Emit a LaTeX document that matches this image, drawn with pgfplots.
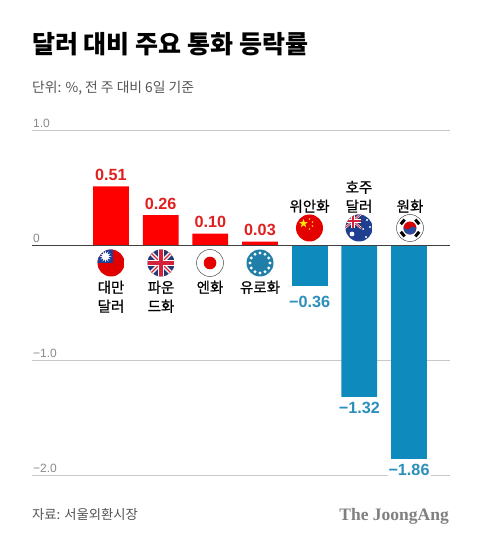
\documentclass[border=0pt]{standalone}
\usepackage{pgfplots}
\pgfplotsset{compat=1.18}
\usepackage{pgfplotstable}
\usetikzlibrary{shapes.geometric}
\usepackage{fontspec}
\setmainfont{Noto Sans CJK KR}
\newfontfamily\medfont[FakeBold=0.6]{Noto Sans CJK KR}
\newfontfamily\numfont{Liberation Sans}
\newfontfamily\logofont{Liberation Serif}
\definecolor{barred}{HTML}{FF0000}
\definecolor{barblue}{HTML}{0F8ABD}
\definecolor{txtred}{HTML}{E01F1F}
\definecolor{txtblue}{HTML}{2A8FBB}
\definecolor{gridc}{HTML}{C8C8C8}
\definecolor{tickc}{HTML}{8A8A8A}
\definecolor{subc}{HTML}{555555}
\definecolor{twblue}{HTML}{1D3F95}
\definecolor{ukblue}{HTML}{27386F}
\definecolor{ukred}{HTML}{D5213A}
\definecolor{eublue}{HTML}{1F7FA8}
\definecolor{aublue}{HTML}{1F3F90}
\definecolor{krblue}{HTML}{2A4C9C}
\pgfplotstableread{
x y lab
0 0.51 0.51
1 0.26 0.26
2 0.10 0.10
3 0.03 0.03
}\pos
\pgfplotstableread{
x y lab
4 -0.36 −0.36
}\negone
\pgfplotstableread{
x y lab
5 -1.32 −1.32
6 -1.86 −1.86
}\negv
\begin{document}
\begin{tikzpicture}[x=1pt,y=1pt]
\path[use as bounding box,fill=white] (0,0) rectangle (480,542);
\begin{axis}[
  at={(32pt,67pt)},anchor=south west,
  scale only axis,width=418pt,height=345pt,
  xmin=-1.59,xmax=6.825,ymin=-2,ymax=1,
  clip=false,
  axis line style={draw=none},
  xtick=\empty,
  ytick={-2,-1,0,1},
  yticklabels={−2.0,−1.0,0,1.0},
  major tick length=0pt,
  ymajorgrids,
  grid style={gridc,line width=0.8pt},
  yticklabel style={anchor=south west,font=\numfont\fontsize{12}{12}\selectfont,text=tickc,inner sep=0pt,xshift=1pt,yshift=2pt},
  ybar,bar width=35.7pt,bar shift=0pt,
  nodes near coords,
  point meta=explicit symbolic,
  nodes near coords style={font=\numfont\bfseries\fontsize{16.2}{16.2}\selectfont,inner sep=0pt},
  axis on top=false,
]
\addplot[draw=none,fill=barred,nodes near coords style={text=txtred,anchor=south,yshift=5.5pt}] table[x=x,y=y,meta=lab] {\pos};
\addplot[draw=none,fill=barblue,nodes near coords style={text=txtblue,anchor=north,yshift=-9pt,fill=white,inner sep=1pt}] table[x=x,y=y,meta=lab] {\negone};
\addplot[draw=none,fill=barblue,nodes near coords style={text=txtblue,anchor=north,yshift=-4.5pt,fill=white,inner sep=1pt}] table[x=x,y=y,meta=lab] {\negv};
\end{axis}
\draw[line width=0.9pt,black!75] (32,296.5) -- (450,296.5);
% texts
\node[anchor=west,inner sep=0pt,font=\bfseries\fontsize{25}{26}\selectfont] at (32,498) {달러 대비 주요 통화 등락률};
\node[anchor=west,inner sep=0pt,font=\fontsize{13.8}{14}\selectfont,text=subc] at (32,454) {단위: \%, 전 주 대비 6일 기준};
\node[anchor=west,inner sep=0pt,font=\fontsize{13.3}{14}\selectfont,text=subc] at (32,27) {자료: 서울외환시장};
\node[anchor=east,inner sep=0pt,font=\logofont\bfseries\fontsize{17.5}{18}\selectfont,text=black!50] at (449,25.5) {The JoongAng};
\tikzset{lab/.style={align=center,inner sep=0pt,font=\medfont\fontsize{14.5}{19}\selectfont}}
\node[lab,anchor=north] at (111,261.5) {대만\\달러};
\node[lab,anchor=north] at (161,261.5) {파운\\드화};
\node[lab,anchor=north] at (210,261.5) {엔화};
\node[lab,anchor=north] at (260,261.5) {유로화};
\node[lab,anchor=south] at (309.5,329) {위안화};
\node[lab,anchor=south] at (359,329) {호주\\달러};
\node[lab,anchor=south] at (410,329) {원화};
% flags
\def\R{13.5}
% Taiwan
\begin{scope}[shift={(111,279)}]
\clip (0,0) circle (\R);
\fill[red!88!black] (-14,-14) rectangle (14,14);
\fill[twblue] (-14,0) rectangle (2,14);
\fill[white] (-5.5,6.5) circle (3.6);
\foreach \a in {0,30,...,330}{\fill[white] (-5.5,6.5)+(\a-10:3.4) -- +(\a:6) -- +(\a+10:3.4) -- cycle;}
\end{scope}
% UK
\begin{scope}[shift={(161,279)}]
\clip (0,0) circle (\R);
\fill[ukblue] (-14,-14) rectangle (14,14);
\draw[white,line width=4pt] (-14,-14) -- (14,14) (-14,14) -- (14,-14);
\draw[ukred,line width=1.4pt] (-14,-14) -- (14,14) (-14,14) -- (14,-14);
\draw[white,line width=6.5pt] (-14,0) -- (14,0) (0,-14) -- (0,14);
\draw[ukred,line width=3.8pt] (-14,0) -- (14,0) (0,-14) -- (0,14);
\end{scope}
% Japan
\begin{scope}[shift={(210,279)}]
\fill[white] (0,0) circle (\R);
\draw[black!70,line width=0.5pt] (0,0) circle (\R);
\fill[red!90!black] (0,0) circle (6.3);
\end{scope}
% EU
\begin{scope}[shift={(260,279)}]
\fill[eublue] (0,0) circle (\R);
\foreach \a in {0,30,...,330}{\fill[white] (\a:10) circle (1.6);}
\end{scope}
% China
\begin{scope}[shift={(309.5,314)}]
\clip (0,0) circle (\R);
\fill[red!90!black] (-14,-14) rectangle (14,14);
\node[star,star points=5,star point ratio=2.4,fill=yellow!85!orange,inner sep=0pt,minimum size=9pt] at (-6,4.5) {};
\foreach \p in {(0,9),(3,6),(3,2),(0,-1)}{\fill[yellow!85!orange] \p circle (0.9);}
\end{scope}
% Australia
\begin{scope}[shift={(359,314)}]
\clip (0,0) circle (\R);
\fill[aublue] (-14,-14) rectangle (14,14);
\fill[ukblue] (-14,0) rectangle (2,14);
\draw[white,line width=2pt] (-14,14) -- (2,0) (-14,0) -- (2,14);
\draw[ukred,line width=0.8pt] (-14,14) -- (2,0) (-14,0) -- (2,14);
\draw[white,line width=3.4pt] (-14,7) -- (2,7) (-6,0) -- (-6,14);
\draw[ukred,line width=1.8pt] (-14,7) -- (2,7) (-6,0) -- (-6,14);
\foreach \p/\r in {(-7,-6)/2.4,(8,8)/1.2,(11,1)/1.2,(7,-9)/1.2,(4,-1)/1.0}{\fill[white] \p circle (\r);}
\end{scope}
% Korea
\begin{scope}[shift={(410,314)}]
\fill[white] (0,0) circle (\R);
\draw[black!70,line width=0.5pt] (0,0) circle (\R);
\fill[red!85!black] (0,0) circle (6.5);
\begin{scope}[rotate=-30]
\fill[krblue] (-6.5,0) arc (180:360:6.5) arc (0:180:3.25) arc (0:-180:3.25) -- cycle;
\end{scope}
\foreach \a in {40,140,220,320}{
 \begin{scope}[rotate=\a]
 \fill[black] (8,-3) rectangle (11,3);
 \end{scope}}
\end{scope}
\end{tikzpicture}
\end{document}
